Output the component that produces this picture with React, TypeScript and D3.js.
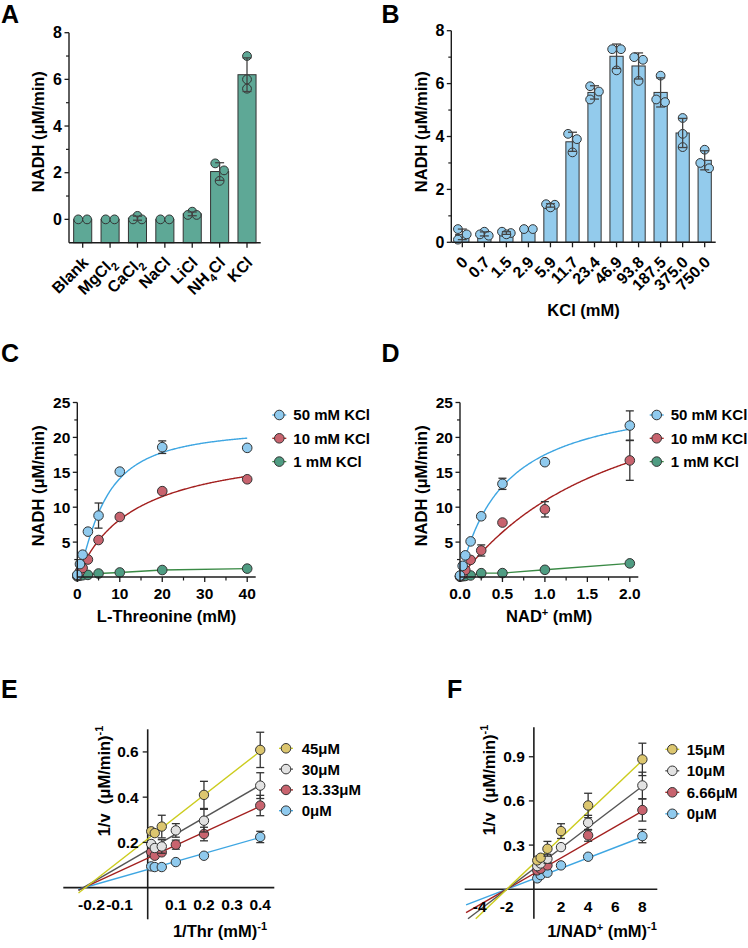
import * as d3 from "d3";
import type { ReactNode } from "react";

const FONT = "'Liberation Sans', Arial, Helvetica, sans-serif";
const INK = "#1c1c1c";
const BAR_TICK_FS = 16;
const TICK_FS = 15.5;
const TITLE_FS = 16.5;
const LEG_FS = 15;
const LETTER_FS = 25;

// ---- A: salt screen (NADH, µM/min), replicate values ----
const saltCats = ["Blank", "MgCl2", "CaCl2", "NaCl", "LiCl", "NH4Cl", "KCl"];
const saltReps = [
  [0, 0],
  [0, 0],
  [0.15, 0, 0],
  [0, 0],
  [0.33, 0.19, 0.19],
  [2.4, 2.1, 1.65],
  [7.0, 6.0, 5.6],
];

// ---- B: KCl titration ----
const kclCats = ["0", "0.7", "1.5", "2.9", "5.9", "11.7", "23.4", "46.9", "93.8", "187.5", "375.0", "750.0"];
const kclReps = [
  [0.5, 0.3, 0.1],
  [0.4, 0.3, 0.25],
  [0.4, 0.35, 0.3],
  [0.5, 0.5],
  [1.44, 1.42, 1.32],
  [4.1, 3.9, 3.4],
  [5.9, 5.7, 5.4],
  [7.3, 7.3, 6.5],
  [7.0, 6.9, 6.1],
  [6.3, 5.4, 5.3],
  [4.7, 4.1, 3.6],
  [3.5, 3.0, 2.8],
];

// ---- C: L-threonine saturation ----
const thrConc = [0, 0.625, 1.25, 2.5, 5, 10, 20, 40];
const thrKcl50 = [0.3, 1.85, 3.2, 6.5, 8.8, 15.1, 18.6, 18.5];
const thrKcl50Sd = [0, 0, 0, 0, 1.8, 0, 0.9, 0];
const thrKcl10 = [0.2, 0.8, 1.3, 2.5, 5.3, 8.6, 12.3, 14.0];
const thrKcl10Sd = [0, 0, 0, 0, 0, 0, 0, 0];
const thrKcl1 = [0.1, 0.2, 0.25, 0.3, 0.5, 0.65, 1.0, 1.2];
// fitted curve parameters [Vmax, K, hill]
const thrFit50 = [21.5, 6.2, 1.35];
const thrFit10 = [19.3, 13.5, 1];

// ---- D: NAD+ saturation ----
const nadConc = [0, 0.03125, 0.0625, 0.125, 0.25, 0.5, 1, 2];
const nadKcl50 = [0.2, 1.6, 3.1, 5.1, 8.7, 13.35, 16.45, 21.7];
const nadKcl50Sd = [0, 0, 0, 0, 0, 0.8, 0, 2.1];
const nadKcl10 = [0.1, 0.4, 1.0, 2.45, 3.8, 7.8, 9.7, 16.7];
const nadKcl10Sd = [0, 0, 0, 0, 0.8, 0, 1.1, 2.85];
const nadKcl1 = [0.05, 0.1, 0.15, 0.22, 0.55, 0.56, 1.03, 1.95];
const nadFit50 = [26.8, 0.53, 1];
const nadFit10 = [31.4, 1.82, 1.05];

const kclLegend = ["50 mM KCl", "10 mM KCl", "1 mM KCl"];

// ---- E: Lineweaver-Burk vs 1/Thr ----
const invThr = [0.0125, 0.025, 0.05, 0.1, 0.2, 0.4];
const eLegend = ["45μM", "30μM", "13.33μM", "0μM"];
const e45 = [0.249, 0.241, 0.27, null, 0.41, 0.609];
const e45Sd = [0, 0, 0.05, 0, 0.06, 0.078];
const e30 = [0.193, 0.175, 0.182, 0.253, 0.296, 0.451];
const e30Sd = [0, 0, 0.03, 0.03, 0.05, 0.057];
const e13 = [0.157, 0.141, 0.156, 0.19, 0.237, 0.363];
const e13Sd = [0, 0, 0, 0.02, 0.03, 0.045];
const e0 = [0.094, 0.091, 0.091, 0.113, 0.141, 0.224];
const e0Sd = [0, 0, 0, 0, 0, 0.025];
// [slope, intercept] of the fitted lines
const eFits = [
  [0.97, 0.215],
  [0.72, 0.165],
  [0.575, 0.13],
  [0.355, 0.08],
];

// ---- F: Lineweaver-Burk vs 1/NAD+ ----
const invNad = [0.25, 0.5, 1, 2, 4, 8];
const fLegend = ["15μM", "10μM", "6.66μM", "0μM"];
const f15 = [0.196, 0.214, 0.275, 0.395, 0.569, 0.882];
const f15Sd = [0, 0, 0.05, 0.05, 0.083, 0.11];
const f10 = [0.157, 0.175, 0.207, 0.286, 0.452, 0.705];
const f10Sd = [0, 0, 0.03, 0, 0.05, 0.09];
const f666 = [0.128, 0.139, 0.162, null, 0.366, 0.538];
const f666Sd = [0, 0, 0, 0, 0.04, 0.075];
const f0 = [0.074, 0.096, 0.112, 0.162, 0.221, 0.361];
const f0Sd = [0, 0, 0, 0, 0, 0.045];
const fFits = [
  [0.0875, 0.175],
  [0.07, 0.14],
  [0.053, 0.106],
  [0.0355, 0.071],
];

// colours
const teal = "#5ea896";
const barBlue = "#93cbec";
const ptBlue = "#8fcaee";
const lnBlue = "#3ea6e2";
const ptRed = "#c8636e";
const lnRed = "#a3201f";
const ptGreen = "#4f9c82";
const lnGreen = "#3a8a45";
const ptYellow = "#dcc66f";
const lnYellow = "#cccc1e";
const ptGrey = "#e2e2e2";
const lnGrey = "#555555";

type Lin = d3.ScaleLinear<number, number>;

const fmt1 = (v: number) => v.toFixed(1);

function Letter({ x, y, t }: { x: number; y: number; t: string }) {
  return (
    <text x={x} y={y} fontSize={LETTER_FS} fill="#000">
      {t}
    </text>
  );
}

function YTitle({ x, y, children }: { x: number; y: number; children: ReactNode }) {
  return (
    <text transform={`translate(${x},${y}) rotate(-90)`} textAnchor="middle" fontSize={TITLE_FS} fill="#000">
      {children}
    </text>
  );
}

function chem(label: string, size: number) {
  const parts = label.split(/(\d+)/).filter(Boolean);
  let low = false;
  return parts.map((p, i) => {
    const num = /^\d+$/.test(p);
    const dy = num ? (low ? 0 : size * 0.3) : low ? -size * 0.3 : 0;
    low = num;
    return (
      <tspan key={i} dy={dy} fontSize={num ? size * 0.7 : size}>
        {p}
      </tspan>
    );
  });
}

// lay replicate points out sideways like a column scatter
function swarm(vals: number[], y: Lin, r: number) {
  const sorted = [...vals].sort((a, b) => b - a);
  const rows: number[][] = [];
  for (const v of sorted) {
    const last = rows[rows.length - 1];
    if (last && Math.abs(y(last[0]) - y(v)) < 2.5) last.push(v);
    else rows.push([v]);
  }
  const d = 2 * r;
  const out: { v: number; dx: number }[] = [];
  let sign = 0;
  rows.forEach((row, i) => {
    if (row.length > 1) {
      row.forEach((v, j) => out.push({ v, dx: (j - (row.length - 1) / 2) * d }));
      sign = 0;
      return;
    }
    const prev = rows[i - 1];
    const next = rows[i + 1];
    const ovPrev = prev && prev.length === 1 && Math.abs(y(prev[0]) - y(row[0])) < d;
    const ovNext = next && next.length === 1 && Math.abs(y(next[0]) - y(row[0])) < d;
    if (ovPrev) sign = -sign;
    else if (ovNext) sign = -1;
    else sign = 0;
    out.push({ v: row[0], dx: (sign * d) / 2 });
  });
  return out;
}

function ErrBar({ x, y0, y1, cap = 4, stroke = INK }: { x: number; y0: number; y1: number; cap?: number; stroke?: string }) {
  return (
    <g stroke={stroke} strokeWidth={1.3} fill="none">
      <line x1={x} x2={x} y1={y0} y2={y1} />
      <line x1={x - cap} x2={x + cap} y1={y0} y2={y0} />
      <line x1={x - cap} x2={x + cap} y1={y1} y2={y1} />
    </g>
  );
}

function LeftAxis({
  x,
  y,
  major,
  minor,
  fmt,
  from,
  to,
  fs,
}: {
  x: number;
  y: Lin;
  major: number[];
  minor: number[];
  fmt: (v: number) => string;
  from: number;
  to: number;
  fs: number;
}) {
  return (
    <g>
      <line x1={x} x2={x} y1={y(from)} y2={y(to)} stroke={INK} strokeWidth={1.4} />
      {major.map((v) => (
        <g key={"M" + v}>
          <line x1={x - 4.5} x2={x} y1={y(v)} y2={y(v)} stroke={INK} strokeWidth={1.3} />
          <text x={x - 7} y={y(v)} dy="0.36em" textAnchor="end" fontSize={fs} fill="#000">
            {fmt(v)}
          </text>
        </g>
      ))}
      {minor.map((v) => (
        <line key={"m" + v} x1={x - 3} x2={x} y1={y(v)} y2={y(v)} stroke={INK} strokeWidth={1.2} />
      ))}
    </g>
  );
}

function BarChart({
  cats,
  reps,
  y,
  x0,
  x1,
  padIn,
  padOut,
  fill,
  major,
  minor,
  base,
  top,
  chemLabels,
}: {
  cats: string[];
  reps: number[][];
  y: Lin;
  x0: number;
  x1: number;
  padIn: number;
  padOut: number;
  fill: string;
  major: number[];
  minor: number[];
  base: number;
  top: number;
  chemLabels: boolean;
}) {
  const x = d3.scaleBand<string>().domain(cats).range([x0, x1]).paddingInner(padIn).paddingOuter(padOut);
  const yb = y(base);
  const r = 4.4;
  return (
    <g>
      {cats.map((c, i) => {
        const vals = reps[i];
        const m = d3.mean(vals) ?? 0;
        const sd = vals.length > 1 ? d3.deviation(vals) ?? 0 : 0;
        const cx = (x(c) ?? 0) + x.bandwidth() / 2;
        return (
          <g key={c}>
            <rect x={x(c)} y={y(m)} width={x.bandwidth()} height={yb - y(m)} fill={fill} stroke="#333" strokeWidth={1} />
            {swarm(vals, y, r).map((p, j) => (
              <circle key={j} cx={cx + p.dx} cy={y(p.v)} r={r} fill={fill} stroke="#333" strokeWidth={1} />
            ))}
            {sd > 0.005 && <ErrBar x={cx} y0={y(m - sd)} y1={y(m + sd)} cap={4.5} stroke="#444" />}
          </g>
        );
      })}
      <line x1={x0} x2={x1} y1={yb} y2={yb} stroke={INK} strokeWidth={1.4} />
      {cats.map((c) => {
        const cx = (x(c) ?? 0) + x.bandwidth() / 2;
        return (
          <g key={"t" + c}>
            <line x1={cx} x2={cx} y1={yb} y2={yb + 5} stroke={INK} strokeWidth={1.3} />
            <text transform={`translate(${cx + 6.5},${yb + 21})  rotate(-45)`} textAnchor="end" fontSize={BAR_TICK_FS} fill="#000">
              {chemLabels ? chem(c, BAR_TICK_FS) : c}
            </text>
          </g>
        );
      })}
      <LeftAxis x={x0} y={y} major={major} minor={minor} fmt={(v) => String(v)} from={base} to={top} fs={BAR_TICK_FS} />
    </g>
  );
}

function hill(p: number[]) {
  const [vmax, k, n] = p;
  return (s: number) => (vmax * Math.pow(s, n)) / (Math.pow(k, n) + Math.pow(s, n));
}

type Series = { vals: (number | null)[]; sd?: number[]; pt: string };

function Points({ xs, s, x, y, r }: { xs: number[]; s: Series; x: Lin; y: Lin; r: number }) {
  return (
    <g>
      {xs.map((xv, i) => {
        const v = s.vals[i];
        if (v == null) return null;
        const sd = s.sd ? s.sd[i] : 0;
        return (
          <g key={i}>
            {sd > 0 && <ErrBar x={x(xv)} y0={y(v - sd)} y1={y(v + sd)} cap={4} stroke="#333" />}
            <circle cx={x(xv)} cy={y(v)} r={r} fill={s.pt} stroke="#333" strokeWidth={1} />
          </g>
        );
      })}
    </g>
  );
}

function Legend({ x, y0, dy, labels, pts, lns, tx }: { x: number; y0: number; dy: number; labels: string[]; pts: string[]; lns: string[]; tx: number }) {
  return (
    <g>
      {labels.map((l, i) => (
        <g key={l}>
          <line x1={x - 7} x2={x + 7} y1={y0 + i * dy} y2={y0 + i * dy} stroke={lns[i]} strokeWidth={1.3} />
          <circle cx={x} cy={y0 + i * dy} r={4.8} fill={pts[i]} stroke="#333" strokeWidth={1} />
          <text x={tx} y={y0 + i * dy} dy="0.36em" fontSize={LEG_FS} fill="#000">
            {l}
          </text>
        </g>
      ))}
    </g>
  );
}

function Saturation({
  xs,
  series,
  fits,
  xMax,
  xLeft,
  xRight,
  majorX,
  minorX,
  fmtX,
  legendX,
  legendTx,
}: {
  xs: number[];
  series: Series[];
  fits: (number[] | null)[];
  xMax: number;
  xLeft: number;
  xRight: number;
  majorX: number[];
  minorX: number[];
  fmtX: (v: number) => string;
  legendX: number;
  legendTx: number;
}) {
  const x = d3.scaleLinear().domain([0, xMax]).range([xLeft, xRight]);
  const y = d3.scaleLinear().domain([0, 25]).range([577, 402.5]);
  const yb = y(0);
  const lns = [lnBlue, lnRed, lnGreen];
  const line = d3
    .line<[number, number]>()
    .x((d) => x(d[0]))
    .y((d) => y(d[1]));
  const last = xs[xs.length - 1];
  const order = [2, 1, 0];
  return (
    <g>
      {order.map((i) => {
        const f = fits[i];
        const pts: [number, number][] = f
          ? d3.range(0, 201).map((k) => {
              const s = (last * k) / 200;
              return [s, hill(f)(s)];
            })
          : xs.map((s, j) => [s, series[i].vals[j] as number]);
        return <path key={"l" + i} d={line(pts) ?? ""} fill="none" stroke={lns[i]} strokeWidth={1.4} />;
      })}
      {order.map((i) => (
        <Points key={"p" + i} xs={xs} s={series[i]} x={x} y={y} r={4.8} />
      ))}
      <line x1={xLeft} x2={xRight} y1={yb} y2={yb} stroke={INK} strokeWidth={1.4} />
      {majorX.map((v) => (
        <g key={"x" + v}>
          <line x1={x(v)} x2={x(v)} y1={yb} y2={yb + 5} stroke={INK} strokeWidth={1.3} />
          <text x={x(v)} y={yb + 21.5} textAnchor="middle" fontSize={TICK_FS} fill="#000">
            {fmtX(v)}
          </text>
        </g>
      ))}
      {minorX.map((v) => (
        <line key={"mx" + v} x1={x(v)} x2={x(v)} y1={yb} y2={yb + 3.5} stroke={INK} strokeWidth={1.2} />
      ))}
      <LeftAxis x={xLeft} y={y} major={[5, 10, 15, 20, 25]} minor={[2.5, 7.5, 12.5, 17.5, 22.5]} fmt={(v) => String(v)} from={0} to={25} fs={TICK_FS} />
      <Legend x={legendX} y0={415} dy={23.3} labels={kclLegend} pts={[ptBlue, ptRed, ptGreen]} lns={lns} tx={legendTx} />
    </g>
  );
}

function LineweaverBurk({
  xs,
  series,
  fits,
  xDom,
  xRange,
  yDom,
  yRange,
  xTicks,
  yTicks,
  fmtX,
  fmtY,
  lineFrom,
  labels,
  legendX,
  legendTx,
  legendY,
  legendDy,
}: {
  xs: number[];
  series: Series[];
  fits: number[][];
  xDom: [number, number];
  xRange: [number, number];
  yDom: [number, number];
  yRange: [number, number];
  xTicks: number[];
  yTicks: number[];
  fmtX: (v: number) => string;
  fmtY: (v: number) => string;
  lineFrom: number;
  labels: string[];
  legendX: number;
  legendTx: number;
  legendY: number;
  legendDy: number;
}) {
  const x = d3.scaleLinear().domain(xDom).range(xRange);
  const y = d3.scaleLinear().domain(yDom).range(yRange);
  const lns = [lnYellow, lnGrey, lnRed, lnBlue];
  const pts = [ptYellow, ptGrey, ptRed, ptBlue];
  const x0 = x(0);
  const y0 = y(0);
  const last = xs[xs.length - 1];
  const order = [3, 2, 1, 0];
  return (
    <g>
      <line x1={xRange[0]} x2={xRange[1]} y1={y0} y2={y0} stroke={INK} strokeWidth={1.6} />
      <line x1={x0} x2={x0} y1={yRange[0]} y2={yRange[1]} stroke={INK} strokeWidth={1.6} />
      {order.map((i) => {
        const [m, b] = fits[i];
        const start = Math.max(lineFrom, (yDom[0] - b) / m);
        return <line key={"f" + i} x1={x(start)} y1={y(m * start + b)} x2={x(last)} y2={y(m * last + b)} stroke={lns[i]} strokeWidth={1.4} />;
      })}
      {order.map((i) => (
        <Points key={"p" + i} xs={xs} s={{ ...series[i], pt: pts[i] }} x={x} y={y} r={4.7} />
      ))}
      {yTicks.map((v) => (
        <g key={"y" + v}>
          <line x1={x0 - 5} x2={x0} y1={y(v)} y2={y(v)} stroke={INK} strokeWidth={1.3} />
          <text x={x0 - 9} y={y(v)} dy="0.36em" textAnchor="end" fontSize={TICK_FS} fill="#000">
            {fmtY(v)}
          </text>
        </g>
      ))}
      {xTicks.map((v) => (
        <text key={"x" + v} x={x(v)} y={y0 + 22.5} textAnchor="middle" fontSize={TICK_FS} fill="#000">
          {fmtX(v)}
        </text>
      ))}
      <Legend x={legendX} y0={legendY} dy={legendDy} labels={labels} pts={pts} lns={lns} tx={legendTx} />
    </g>
  );
}

const sup = (t: string, up = 7) => [
  <tspan key="s" dy={-up} fontSize={11}>
    {t}
  </tspan>,
];

export default function App() {
  const yA = d3.scaleLinear().domain([-1, 8]).range([242.7, 32.7]);
  const yB = d3.scaleLinear().domain([0, 8]).range([242.3, 30.7]);
  return (
    <svg
      width={748}
      height={948}
      viewBox="0 0 748 948"
      style={{ position: "absolute", left: 0, top: 0, background: "#fff" }}
      fontFamily={FONT}
      fontWeight="bold"
    >
      <rect width={748} height={948} fill="#fff" />

      {/* A */}
      <Letter x={1} y={22.7} t="A" />
      <BarChart cats={saltCats} reps={saltReps} y={yA} x0={69} x1={260.7} padIn={0.34} padOut={0.17} fill={teal} major={[0, 2, 4, 6, 8]} minor={[1, 3, 5, 7]} base={-1} top={8} chemLabels />
      <YTitle x={44} y={131.7}>NADH (μM/min)</YTitle>

      {/* B */}
      <Letter x={381.5} y={22.7} t="B" />
      <BarChart cats={kclCats} reps={kclReps} y={yB} x0={451.3} x1={715.7} padIn={0.4} padOut={0.2} fill={barBlue} major={[0, 2, 4, 6, 8]} minor={[1, 3, 5, 7]} base={0} top={8} chemLabels={false} />
      <YTitle x={426.5} y={131.7}>NADH (μM/min)</YTitle>
      <text x={583.5} y={316} textAnchor="middle" fontSize={TITLE_FS} fill="#000">
        KCl (mM)
      </text>

      {/* C */}
      <Letter x={1} y={362} t="C" />
      <Saturation
        xs={thrConc}
        series={[
          { vals: thrKcl50, sd: thrKcl50Sd, pt: ptBlue },
          { vals: thrKcl10, sd: thrKcl10Sd, pt: ptRed },
          { vals: thrKcl1, pt: ptGreen },
        ]}
        fits={[thrFit50, thrFit10, null]}
        xMax={42}
        xLeft={77.3}
        xRight={255.7}
        majorX={[0, 10, 20, 30, 40]}
        minorX={[5, 15, 25, 35]}
        fmtX={(v) => String(v)}
        legendX={279.3}
        legendTx={293.3}
      />
      <YTitle x={43.5} y={485.8}>NADH (μM/min)</YTitle>
      <text x={166.5} y={622} textAnchor="middle" fontSize={TITLE_FS} fill="#000">
        L-Threonine (mM)
      </text>

      {/* D */}
      <Letter x={381.5} y={362} t="D" />
      <Saturation
        xs={nadConc}
        series={[
          { vals: nadKcl50, sd: nadKcl50Sd, pt: ptBlue },
          { vals: nadKcl10, sd: nadKcl10Sd, pt: ptRed },
          { vals: nadKcl1, pt: ptGreen },
        ]}
        fits={[nadFit50, nadFit10, null]}
        xMax={2.1}
        xLeft={460}
        xRight={638.3}
        majorX={[0, 0.5, 1, 1.5, 2]}
        minorX={[0.25, 0.75, 1.25, 1.75]}
        fmtX={fmt1}
        legendX={656.7}
        legendTx={670.7}
      />
      <YTitle x={426.5} y={485.8}>NADH (μM/min)</YTitle>
      <text x={549.2} y={622} textAnchor="middle" fontSize={TITLE_FS} fill="#000">
        NAD
        <tspan dy={-6} fontSize={11}>
          +
        </tspan>
        <tspan dy={6}> (mM)</tspan>
      </text>

      {/* E */}
      <Letter x={1} y={698} t="E" />
      <LineweaverBurk
        xs={invThr}
        series={[
          { vals: e45, sd: e45Sd, pt: ptYellow },
          { vals: e30, sd: e30Sd, pt: ptGrey },
          { vals: e13, sd: e13Sd, pt: ptRed },
          { vals: e0, sd: e0Sd, pt: ptBlue },
        ]}
        fits={eFits}
        xDom={[-0.3, 0.45]}
        xRange={[63.3, 274.3]}
        yDom={[-0.14, 0.7]}
        yRange={[919.3, 729.3]}
        xTicks={[-0.2, -0.1, 0.1, 0.2, 0.3, 0.4]}
        yTicks={[0.2, 0.4, 0.6]}
        fmtX={fmt1}
        fmtY={fmt1}
        lineFrom={-0.246}
        labels={eLegend}
        legendX={286}
        legendTx={301.7}
        legendY={748.3}
        legendDy={20.8}
      />
      <YTitle x={110} y={781}>
        1/v{"\u00a0\u00a0"}(μM/min){sup("-1")}
      </YTitle>
      <text x={220} y={937} textAnchor="middle" fontSize={TITLE_FS} fill="#000">
        1/Thr (mM){sup("-1")}
      </text>

      {/* F */}
      <Letter x={447} y={698} t="F" />
      <LineweaverBurk
        xs={invNad}
        series={[
          { vals: f15, sd: f15Sd, pt: ptYellow },
          { vals: f10, sd: f10Sd, pt: ptGrey },
          { vals: f666, sd: f666Sd, pt: ptRed },
          { vals: f0, sd: f0Sd, pt: ptBlue },
        ]}
        fits={fFits}
        xDom={[-5.1, 9.1]}
        xRange={[464.7, 657.3]}
        yDom={[-0.2, 1.1]}
        yRange={[918.7, 727.3]}
        xTicks={[-4, -2, 2, 4, 6, 8]}
        yTicks={[0.3, 0.6, 0.9]}
        fmtX={(v) => String(v)}
        fmtY={fmt1}
        lineFrom={-5.0}
        labels={fLegend}
        legendX={672.3}
        legendTx={686.7}
        legendY={749.3}
        legendDy={21.5}
      />
      <YTitle x={495} y={780}>
        1/v{"\u00a0\u00a0"}(μM/min){sup("-1")}
      </YTitle>
      <text x={602} y={937} textAnchor="middle" fontSize={TITLE_FS} fill="#000">
        1/NAD
        <tspan dy={-6} fontSize={11}>
          +
        </tspan>
        <tspan dy={6}> (mM)</tspan>
        {sup("-1")}
      </text>
    </svg>
  );
}
